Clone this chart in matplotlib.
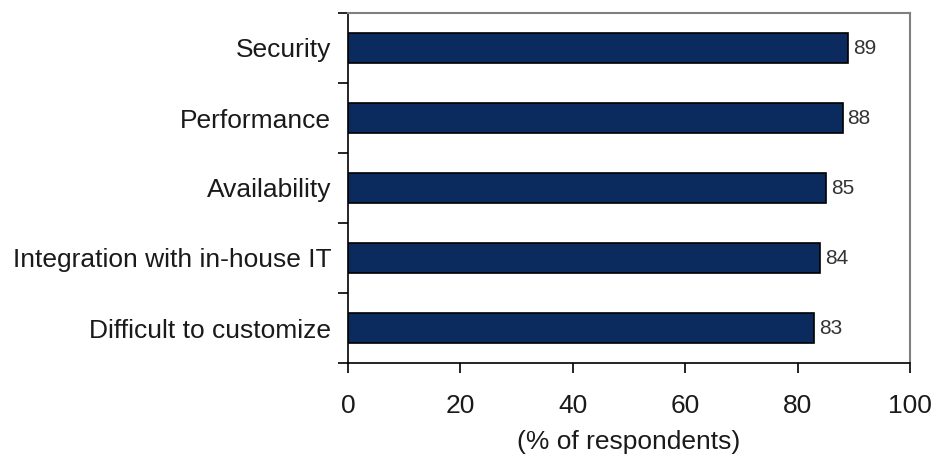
import matplotlib.pyplot as plt
import numpy as np

plt.rcParams['font.family'] = ['Liberation Sans', 'DejaVu Sans']

categories = ["Security", "Performance", "Availability",
              "Integration with in-house IT", "Difficult to customize"]
values = [89, 88, 85, 84, 83]
xticks = [0, 20, 40, 60, 80, 100]

fig = plt.figure(figsize=(9.35, 4.58), dpi=100)
ax = fig.add_axes([348 / 935, 1 - 363 / 458, (910 - 348) / 935, 350 / 458])

y = np.arange(len(categories))
ax.barh(y, values, height=0.43, color="#0b2a5e", edgecolor="black", linewidth=1.2)

# value labels at the end of each bar
for yi, v in zip(y, values):
    ax.text(v + 0.9, yi, str(v), va="center", ha="left", fontsize=15, color="#333333")

ax.set_xlim(0, 100)
ax.set_ylim(len(categories) - 0.5, -0.5)
ax.set_xticks(xticks)
ax.set_xticklabels([str(t) for t in xticks], fontsize=19, color="#1a1a1a")
ax.set_yticks(y)
ax.set_yticklabels(categories, fontsize=19, color="#1a1a1a")
# tick marks sit between the categories
ax.set_yticks(np.arange(-0.5, len(categories), 1), minor=True)
ax.tick_params(axis="y", which="major", length=0, pad=12)
ax.tick_params(axis="y", which="minor", length=7, direction="out", width=1.2)
ax.tick_params(axis="x", length=7, direction="out", width=1.2, pad=15)
ax.set_xlabel("(% of respondents)", fontsize=19, color="#1a1a1a", labelpad=9)

ax.spines["left"].set_color("black")
ax.spines["bottom"].set_color("black")
ax.spines["left"].set_linewidth(1.2)
ax.spines["bottom"].set_linewidth(1.2)
for s in ("top", "right"):
    ax.spines[s].set_color("#808080")
    ax.spines[s].set_linewidth(1.5)

fig.savefig("out.png", dpi=100)
